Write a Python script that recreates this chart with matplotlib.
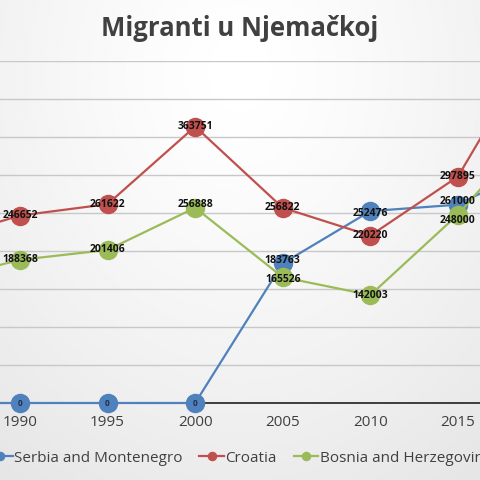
import numpy as np
import matplotlib.pyplot as plt

years = [1985, 1990, 1995, 2000, 2005, 2010, 2015, 2017]
serbia = [0, 0, 0, 0, 183763, 252476, 261000, 284000]
croatia = [212000, 246652, 261622, 363751, 256822, 220220, 297895, 376000]
bosnia = [159000, 188368, 201406, 256888, 165526, 142003, 248000, 300000]
tick_years = [1990, 1995, 2000, 2005, 2010, 2015]

names = ["Serbia and Montenegro", "Croatia", "Bosnia and Herzegovina"]
colors = ["#4f81bd", "#c0504d", "#9bbb59"]

plt.rcParams['font.family'] = ['Open Sans', 'DejaVu Sans']

fig = plt.figure(figsize=(4.8, 4.8), dpi=100)

# soft grey background, lighter in the middle top
bg = fig.add_axes([0, 0, 1, 1], zorder=-10)
yy, xx = np.mgrid[0:1:200j, 0:1:200j]
r = np.sqrt(((xx - 0.5) * 1.1) ** 2 + ((yy - 0.15) * 0.9) ** 2)
shade = 1.0 - 0.11 * np.clip(r, 0, 1) ** 1.3
bg.imshow(shade, cmap='gray', vmin=0, vmax=1, extent=[0, 1, 1, 0], aspect='auto')
bg.axis('off')

ax = fig.add_axes([0, 1 - 403 / 480, 1, (403 - 61) / 480])
ax.patch.set_alpha(0)
ax.set_xlim(1988.86, 2016.26)
ax.set_ylim(0, 450000)
ax.set_yticks(np.arange(0, 450001, 50000))
ax.set_xticks(tick_years)
ax.set_xticklabels([str(y) for y in tick_years])
ax.yaxis.grid(True, color='#c8c8c8', linewidth=1)
ax.tick_params(axis='y', left=False, labelleft=False)
ax.tick_params(axis='x', length=0, pad=9, labelsize=11, labelcolor='#404040')
for s in ['left', 'right', 'top']:
    ax.spines[s].set_visible(False)
ax.spines['bottom'].set_color('#202020')
ax.spines['bottom'].set_linewidth(1.2)
ax.set_axisbelow(True)

series = [serbia, croatia, bosnia]
for vals, c, n in zip(series, colors, names):
    ax.plot(years, vals, color=c, linewidth=1.6, marker='o', markersize=13,
            markeredgecolor=c, label=n, clip_on=False, zorder=3)

offsets = {
    (0, 2010): -2, (2, 2000): 2, (2, 2015): -4, (0, 2015): 2,
    (0, 2005): 2, (2, 2005): -2,
}
for i, vals in enumerate(series):
    for x, v in zip(years, vals):
        if x < 1990 or x > 2015:
            continue
        if v == 0:
            ax.annotate("0", (x, v), ha='center', va='center', fontsize=6,
                        fontweight='bold', color='#1f2f4f', zorder=5)
            continue
        dy = offsets.get((i, x), 0)
        ax.annotate(str(v), (x, v), xytext=(0, dy), textcoords='offset points',
                    ha='center', va='center', fontsize=7.5, fontweight='bold',
                    color='#111111', zorder=5)

fig.text(0.5, 1 - 28 / 480, "Migranti u Njemačkoj", ha='center', va='center',
         fontsize=18.5, fontweight='bold', color='#404040')

fig.legend(loc='center', bbox_to_anchor=(0.50, 1 - 458 / 480), ncol=3,
           frameon=False, fontsize=11, handlelength=1.6, handletextpad=0.1,
           columnspacing=1.1, markerscale=0.45, labelcolor='#404040')

fig.savefig("out.png", dpi=100)
